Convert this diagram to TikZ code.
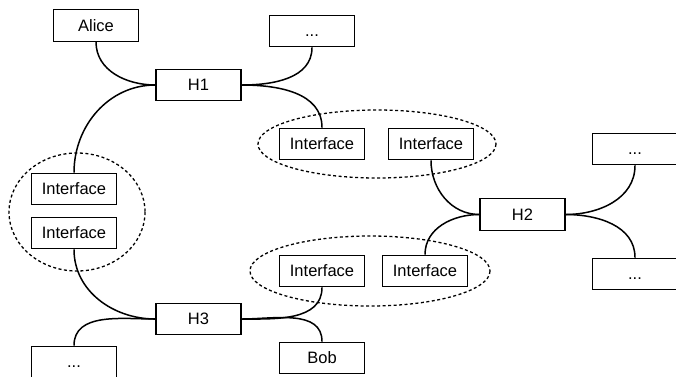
\documentclass[tikz,border=0pt]{standalone}
\usepackage{fontspec}
\setmainfont{Liberation Sans}

\begin{document}
\begin{tikzpicture}[x=1pt, y=-1pt,
    box/.style={draw, line width=1.4pt, fill=white, minimum width=85pt, minimum height=31.5pt,
      inner sep=0pt, text height=11.8pt, text depth=0pt, font=\fontsize{16.5}{19}\selectfont},
    group/.style={draw, line width=1.3pt, dash pattern=on 3pt off 2.5pt},
    link/.style={line width=1.5pt}]
    \useasboundingbox (0,0) rectangle (676,376);
    % groups of interfaces
    \draw[group] (77,212) ellipse [x radius=68, y radius=59];
    \draw[group] (377,144) ellipse [x radius=119, y radius=34];
    \draw[group] (370,271) ellipse [x radius=120, y radius=35];
    % hosts
    \node[box] (h1) at (198.5,85) {H1};
    \node[box] (h2) at (522.5,214.5) {H2};
    \node[box] (h3) at (198.5,319) {H3};
    % end points
    \node[box] (alice) at (96,25.5) {Alice};
    \node[box] (bob) at (322,358) {Bob};
    \node[box] (moretop) at (312,31) {...};
    \node[box] (moreright) at (635,149) {...};
    \node[box] (morerightlow) at (635,274) {...};
    \node[box] (moreleft) at (74,362) {...};
    % interfaces
    \node[box] (ifleft) at (74,189) {Interface};
    \node[box] (ifleftlow) at (74,233) {Interface};
    \node[box] (iftop) at (322,144) {Interface};
    \node[box] (iftopright) at (431,144) {Interface};
    \node[box] (iflow) at (322,271) {Interface};
    \node[box] (iflowright) at (425,271) {Interface};
    % links of H1
    \draw[link] (alice.south) to[out=-90, in=180] (h1.west);
    \draw[link] (ifleft.north) to[out=90, in=180] (h1.west);
    \draw[link] (h1.east) to[out=0, in=-90] (moretop.south);
    \draw[link] (h1.east) to[out=0, in=90] (iftop.north);
    % links of H2
    \draw[link] (iftopright.south) to[out=-90, in=180] (h2.west);
    \draw[link] (iflowright.north) to[out=90, in=180] (h2.west);
    \draw[link] (h2.east) to[out=0, in=-90] (moreright.south);
    \draw[link] (h2.east) to[out=0, in=90] (morerightlow.north);
    % links of H3
    \draw[link] (ifleftlow.south) to[out=-90, in=180] (h3.west);
    \draw[link] (moreleft.north) to[out=90, in=180] (h3.west);
    \draw[link] (h3.east) to[out=0, in=-90] (iflow.south);
    \draw[link] (h3.east) to[out=0, in=90] (bob.north);
\end{tikzpicture}
\end{document}
